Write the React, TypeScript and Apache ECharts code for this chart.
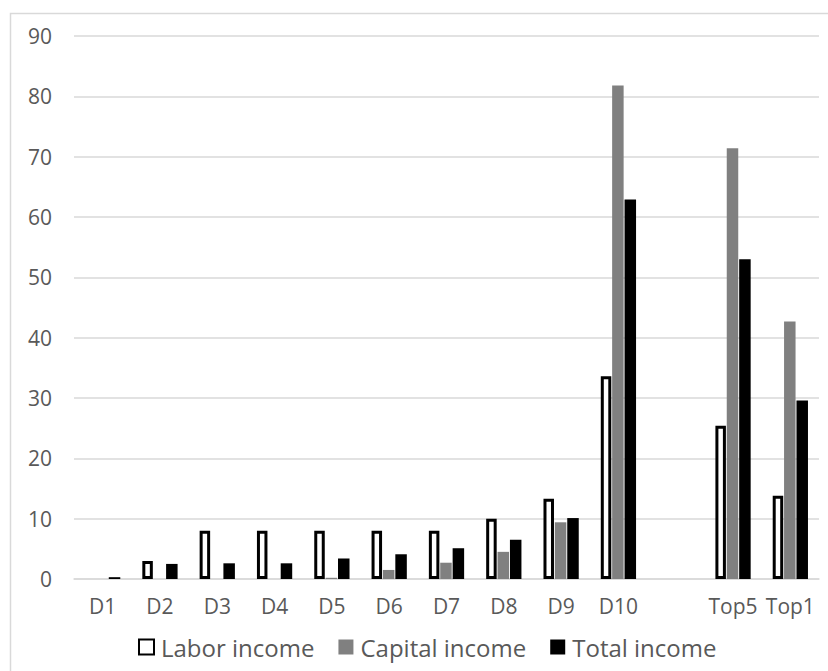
import React, { useEffect, useRef } from "react";
import * as echarts from "echarts";

const categories = ["D1", "D2", "D3", "D4", "D5", "D6", "D7", "D8", "D9", "D10", "", "Top5", "Top1"];
const laborIncome = [null, 3.0, 8.0, 8.0, 8.0, 8.0, 8.0, 10.0, 13.3, 33.6, null, 25.4, 13.8];
const capitalIncome = [0, 0, 0, 0, 0.2, 1.5, 2.7, 4.5, 9.4, 81.8, null, 71.4, 42.7];
const totalIncome = [0.3, 2.5, 2.6, 2.6, 3.4, 4.1, 5.1, 6.5, 10.1, 62.9, null, 53.0, 29.6];
const yTicks = { min: 0, max: 90, interval: 10 };

const FONT = "'Open Sans', sans-serif";
const TEXT = "#595959";
const GRID = "#d9d9d9";

export default function App() {
  const ref = useRef<HTMLDivElement>(null);

  useEffect(() => {
    if (!ref.current) return;
    const chart = echarts.init(ref.current, null, { renderer: "svg" });
    chart.setOption({
      animation: false,
      backgroundColor: "#ffffff",
      textStyle: { fontFamily: FONT },
      graphic: [
        {
          type: "rect",
          left: 8,
          top: 11,
          shape: { width: 840, height: 680 },
          style: { fill: "none", stroke: GRID, lineWidth: 1.5 },
          silent: true,
        },
      ],
      grid: { left: 74, right: 9, top: 36, bottom: 92, containLabel: false },
      legend: {
        bottom: 7,
        left: 133,
        itemWidth: 15,
        itemHeight: 15,
        itemGap: 24,
        icon: "rect",
        textStyle: { color: TEXT, fontSize: 24, fontFamily: FONT, padding: [0, 0, 0, 2] },
        data: ["Labor income", "Capital income", "Total income"],
      },
      xAxis: {
        type: "category",
        data: categories,
        axisLine: { show: true, lineStyle: { color: GRID, width: 1.5 } },
        axisTick: { show: false },
        axisLabel: { color: TEXT, fontSize: 21, margin: 16, interval: 0 },
      },
      yAxis: {
        type: "value",
        min: yTicks.min,
        max: yTicks.max,
        interval: yTicks.interval,
        axisLine: { show: false },
        axisTick: { show: false },
        axisLabel: { color: TEXT, fontSize: 21, margin: 22 },
        splitLine: { lineStyle: { color: GRID, width: 1.5 } },
      },
      series: [
        {
          name: "Labor income",
          type: "bar",
          data: laborIncome,
          barWidth: 10.5,
          barGap: "22%",
          itemStyle: { color: "#ffffff", borderColor: "#000000", borderWidth: 3 },
        },
        {
          name: "Capital income",
          type: "bar",
          data: capitalIncome,
          barWidth: 11.5,
          barGap: "22%",
          itemStyle: { color: "#808080" },
        },
        {
          name: "Total income",
          type: "bar",
          data: totalIncome,
          barWidth: 11.5,
          barGap: "8%",
          itemStyle: { color: "#000000" },
        },
      ],
    });
    return () => chart.dispose();
  }, []);

  return (
    <div
      ref={ref}
      style={{ position: "fixed", left: 0, top: 0, width: 828, height: 671 }}
    />
  );
}
